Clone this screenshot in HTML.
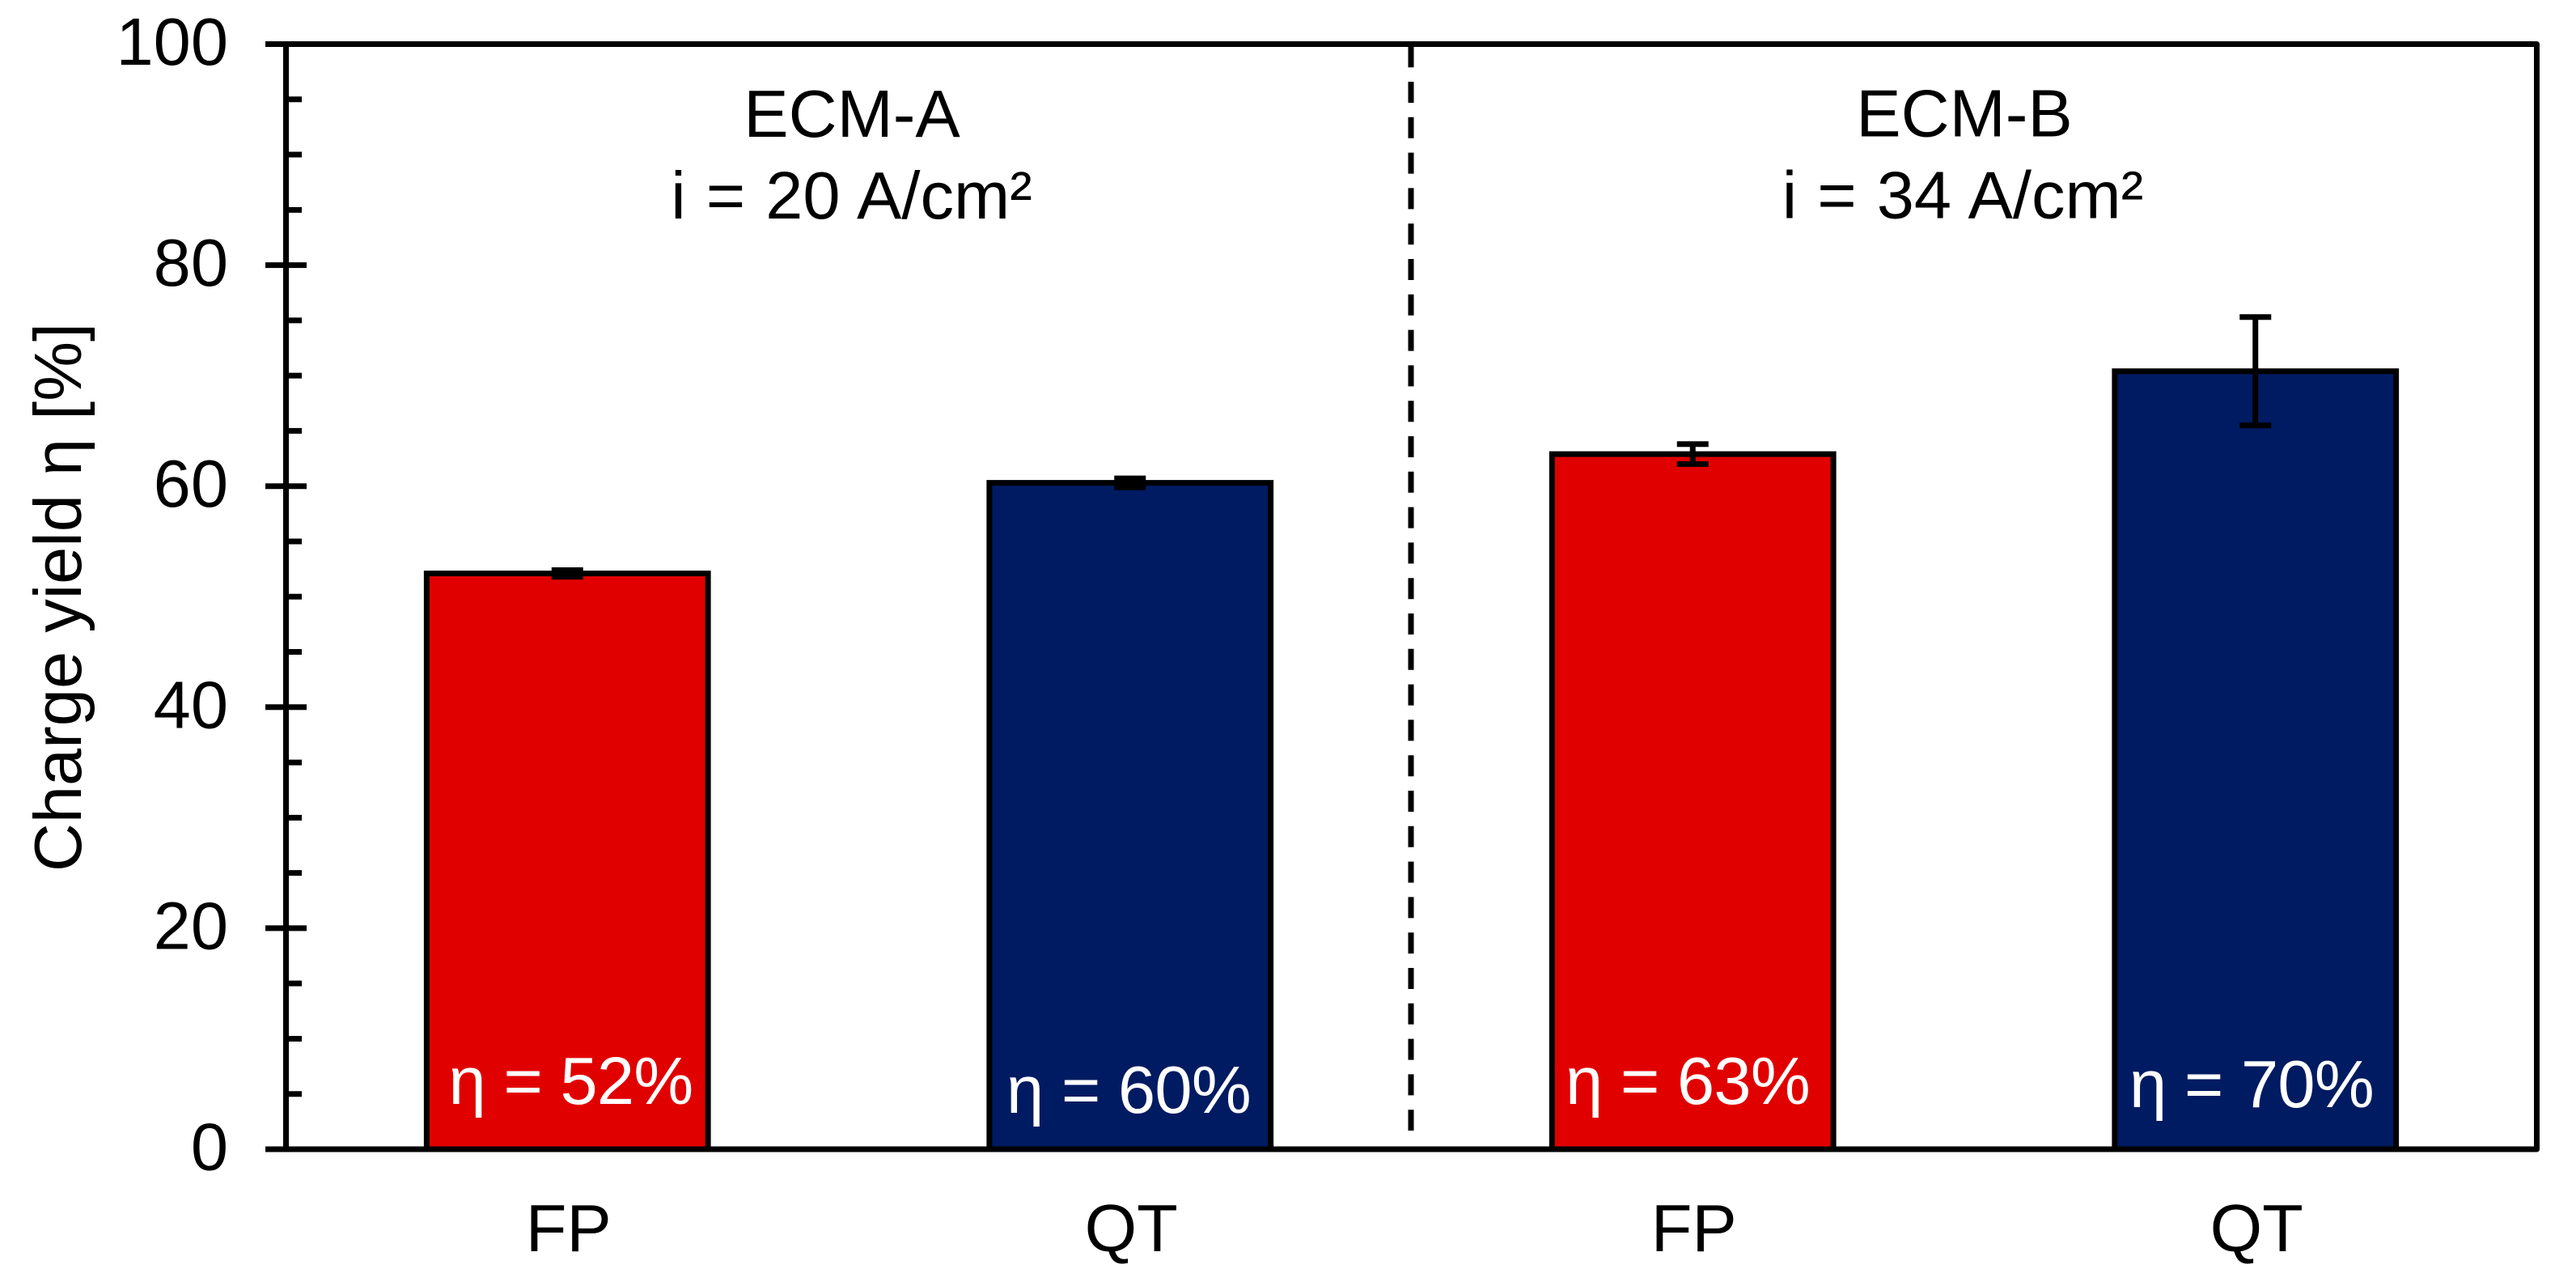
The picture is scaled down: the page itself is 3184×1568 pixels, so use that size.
<!DOCTYPE html>
<html lang="en">
<head>
<meta charset="utf-8">
<title>Charge yield chart</title>
<style>
html,body{margin:0;padding:0;background:#fff;}
svg{display:block;}
text{font-family:"Liberation Sans",Arial,sans-serif;font-size:83px;fill:#000;}
.white{fill:#fff;letter-spacing:-0.7px;}
.current{word-spacing:2px;}
</style>
</head>
<body>
<svg id="chart" xmlns="http://www.w3.org/2000/svg" width="3184" height="1568" viewBox="0 0 3184 1568">
  <rect x="0" y="0" width="3184" height="1568" fill="#ffffff"/>
  <g id="bars"></g>
  <rect id="frame" fill="none" stroke="#000" stroke-width="7" stroke-linejoin="round"/>
  <g id="ticks"></g>
  <g id="errors"></g>
  <line x1="1744" y1="57.2" x2="1744" y2="1397" stroke="#000" stroke-width="7" stroke-dasharray="26 17.8"/>
  <g id="ytick-labels"></g>
  <g id="xtick-labels"></g>
  <text text-anchor="middle" transform="translate(100 738) rotate(-90)">Charge yield η [%]</text>
  <text x="1053" y="169" text-anchor="middle">ECM-A</text>
  <text class="current" x="1052.5" y="270" text-anchor="middle">i = 20 A/cm²</text>
  <text x="2428" y="168.5" text-anchor="middle">ECM-B</text>
  <text class="current" x="2426" y="269.5" text-anchor="middle">i = 34 A/cm²</text>
  <text class="white" x="705.5" y="1364" text-anchor="middle">η = 52%</text>
  <text class="white" x="1395" y="1375" text-anchor="middle">η = 60%</text>
  <text class="white" x="2086" y="1364" text-anchor="middle">η = 63%</text>
  <text class="white" x="2783" y="1368" text-anchor="middle">η = 70%</text>
</svg>
<script>
const categories = ['FP', 'QT', 'FP', 'QT'];
const yieldValues = [52.1, 60.3, 62.9, 70.4];
const yieldErrors = [0.3, 0.4, 0.9, 4.9];
const barColors = ['#e10000', '#001b61', '#e10000', '#001b61'];
const yTickLabels = [0, 20, 40, 60, 80, 100];
const yMinorTicks = [5, 10, 15, 25, 30, 35, 45, 50, 55, 65, 70, 75, 85, 90, 95];

const plotLeft = 353.5, plotRight = 3135.5, plotTop = 54.5, plotBottom = 1420;
const yMax = 100;
const NS = 'http://www.w3.org/2000/svg';

function yScale(v) {
  return plotBottom - (v / yMax) * (plotBottom - plotTop);
}
function xBand() {
  return (plotRight - plotLeft) / categories.length;
}
function xCenter(i) {
  return plotLeft + xBand() * (i + 0.5);
}
function make(tag, attrs, parentId) {
  const el = document.createElementNS(NS, tag);
  for (const k in attrs) el.setAttribute(k, attrs[k]);
  document.getElementById(parentId).appendChild(el);
  return el;
}

const frame = document.getElementById('frame');
frame.setAttribute('x', plotLeft);
frame.setAttribute('y', plotTop);
frame.setAttribute('width', plotRight - plotLeft);
frame.setAttribute('height', plotBottom - plotTop);

yieldValues.forEach(function (v, i) {
  const w = xBand() / 2;
  const bar = make('rect', {
    x: xCenter(i) - w / 2,
    y: yScale(v),
    width: w,
    height: plotBottom - yScale(v),
    fill: barColors[i],
    stroke: '#000',
    'stroke-width': 7
  }, 'bars');
  
  

  const e = yieldErrors[i];
  const stem = make('line', {
    x1: xCenter(i), x2: xCenter(i),
    y1: yScale(v + e), y2: yScale(v - e),
    stroke: '#000', 'stroke-width': 7
  }, 'errors');
  
  

  const capTop = make('line', {
    x1: xCenter(i) - 19.5, x2: xCenter(i) + 19.5,
    y1: yScale(v + e), y2: yScale(v + e),
    stroke: '#000', 'stroke-width': 7
  }, 'errors');
  
  

  const capBottom = make('line', {
    x1: xCenter(i) - 19.5, x2: xCenter(i) + 19.5,
    y1: yScale(v - e), y2: yScale(v - e),
    stroke: '#000', 'stroke-width': 7
  }, 'errors');
  
  

  const label = make('text', {
    x: xCenter(i) + 1.5,
    y: 1546,
    'text-anchor': 'middle'
  }, 'xtick-labels');
  
  
  label.textContent = categories[i];
});

yTickLabels.forEach(function (t) {
  const tick = make('line', {
    x1: plotLeft - 25.5, x2: plotLeft + 25.5,
    y1: yScale(t), y2: yScale(t),
    stroke: '#000', 'stroke-width': 7
  }, 'ticks');
  
  

  const label = make('text', {
    x: 282,
    y: yScale(t) + 25.5,
    'text-anchor': 'end'
  }, 'ytick-labels');
  
  
  label.textContent = t;
});

yMinorTicks.forEach(function (t) {
  const tick = make('line', {
    x1: plotLeft, x2: plotLeft + 19.5,
    y1: yScale(t), y2: yScale(t),
    stroke: '#000', 'stroke-width': 7
  }, 'ticks');
  
  
});
</script>
</body>
</html>
